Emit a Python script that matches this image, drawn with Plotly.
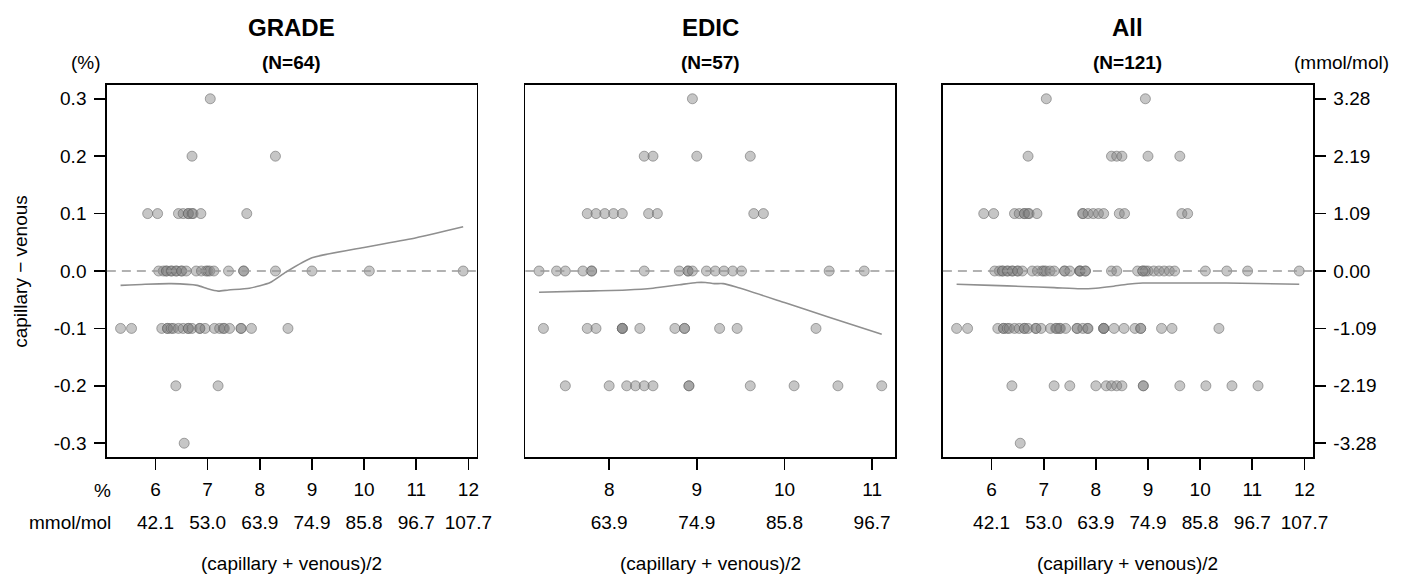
import plotly.graph_objects as go

W, H = 1416, 575

# ---------------- data ----------------
# GRADE panel (N=64): x = (capillary+venous)/2 in %, y = capillary - venous in %
grade_x = [7.05,
           6.70, 8.30,
           5.85, 6.04, 6.44, 6.53, 6.63, 6.63, 6.70, 6.72, 6.87, 7.75,
           6.06, 6.15, 6.21, 6.21, 6.30, 6.31, 6.40, 6.40, 6.50, 6.50, 6.59, 6.78,
           6.88, 6.97, 7.00, 7.04, 7.12, 7.40, 7.69, 7.69, 8.30, 9.00, 10.10, 11.90,
           5.33, 5.54, 6.12, 6.23, 6.23, 6.30, 6.34, 6.44, 6.53, 6.63, 6.63, 6.70,
           6.85, 6.85, 6.95, 7.13, 7.23, 7.30, 7.32, 7.42, 7.64, 7.64, 7.84, 8.54,
           6.39, 7.20,
           6.55]
grade_y = ([0.3] * 1 + [0.2] * 2 + [0.1] * 10 + [0.0] * 24 + [-0.1] * 24 +
           [-0.2] * 2 + [-0.3] * 1)

# EDIC panel (N=57)
edic_x = [8.95,
          8.40, 8.50, 9.00, 9.61,
          7.75, 7.85, 7.95, 8.05, 8.15, 8.45, 8.55, 9.65, 9.76,
          7.20, 7.40, 7.50, 7.70, 7.80, 7.80, 8.40, 8.80, 8.90, 8.90, 8.95,
          9.11, 9.21, 9.31, 9.41, 9.51, 10.51, 10.91,
          7.25, 7.75, 7.85, 8.15, 8.15, 8.15, 8.35, 8.75, 8.86, 8.86, 9.26, 9.46, 10.36,
          7.50, 8.00, 8.20, 8.30, 8.40, 8.50, 8.91, 8.91, 9.61, 10.11, 10.61, 11.11]
edic_y = ([0.3] * 1 + [0.2] * 4 + [0.1] * 9 + [0.0] * 18 + [-0.1] * 13 +
          [-0.2] * 12)

# All (N=121) = GRADE + EDIC
all_x = grade_x + edic_x
all_y = grade_y + edic_y

# smoothed (loess) curves
grade_fit_x = [5.33, 5.8, 6.3, 6.8, 7.0, 7.2, 7.4, 7.8, 8.2, 8.5, 9.0, 10.0, 11.0, 11.9]
grade_fit_y = [-0.025, -0.023, -0.022, -0.025, -0.031, -0.035, -0.033, -0.030,
               -0.020, -0.002, 0.023, 0.041, 0.058, 0.077]
edic_fit_x = [7.2, 7.7, 8.2, 8.5, 8.8, 9.0, 9.1, 9.2, 9.3, 9.45, 10.0, 10.5, 11.11]
edic_fit_y = [-0.037, -0.035, -0.033, -0.030, -0.024, -0.020, -0.020, -0.022,
              -0.022, -0.028, -0.055, -0.080, -0.110]
all_fit_x = [5.33, 6.0, 6.6, 7.2, 7.7, 8.0, 8.3, 8.6, 8.9, 9.5, 10.5, 11.9]
all_fit_y = [-0.023, -0.025, -0.027, -0.029, -0.031, -0.030, -0.027, -0.023,
             -0.021, -0.021, -0.021, -0.023]

titles = ["GRADE", "EDIC", "All"]
subtitles = ["(N=64)", "(N=57)", "(N=121)"]

pct_ticks_wide = [6, 7, 8, 9, 10, 11, 12]
mmol_labels_wide = ["42.1", "53.0", "63.9", "74.9", "85.8", "96.7", "107.7"]
pct_ticks_edic = [8, 9, 10, 11]
mmol_labels_edic = ["63.9", "74.9", "85.8", "96.7"]

y_ticks = [-0.3, -0.2, -0.1, 0.0, 0.1, 0.2, 0.3]
y_pct_labels = ["-0.3", "-0.2", "-0.1", "0.0", "0.1", "0.2", "0.3"]
y_mmol_labels = ["-3.28", "-2.19", "-1.09", "0.00", "1.09", "2.19", "3.28"]

# ---------------- layout helpers ----------------
FONT = "Liberation Sans, Arial, sans-serif"
def px(x):  # window pixel -> paper fraction
    return x / W
def py(y):
    return 1 - y / H

panels_px = [(108, 482), (531, 905), (953, 1327)]
x_ranges = [[5.067, 12.163], [7.044, 11.266], [5.067, 12.163]]
y_range = [-0.324, 0.324]
y_dom = [py(457), py(85)]

pt_fill = "rgba(128,128,128,0.45)"
pt_line = "rgba(100,100,100,0.55)"
fit_col = "#8f8f8f"

fig = go.Figure()

data_sets = [(grade_x, grade_y, grade_fit_x, grade_fit_y),
             (edic_x, edic_y, edic_fit_x, edic_fit_y),
             (all_x, all_y, all_fit_x, all_fit_y)]

for i, (xs, ys, fx, fy) in enumerate(data_sets):
    xa = "x" if i == 0 else f"x{i+1}"
    ya = "y" if i == 0 else f"y{i+1}"
    fig.add_trace(go.Scatter(x=xs, y=ys, mode="markers", xaxis=xa, yaxis=ya,
                             marker=dict(size=10, color=pt_fill,
                                         line=dict(color=pt_line, width=1)),
                             showlegend=False, hoverinfo="skip"))
    fig.add_trace(go.Scatter(x=fx, y=fy, mode="lines", xaxis=xa, yaxis=ya,
                             line=dict(color=fit_col, width=1.6, shape="spline", smoothing=0.6),
                             showlegend=False, hoverinfo="skip"))
    # empty trace to register the secondary (mmol/mol) x axis
    fig.add_trace(go.Scatter(x=[], y=[], xaxis=f"x{i+4}", yaxis=ya,
                             showlegend=False, hoverinfo="skip"))
    fig.add_shape(type="line", xref=f"{xa} domain", yref=ya, x0=0, x1=1, y0=0, y1=0,
                  line=dict(color="#999999", width=1.6, dash="9px,6px"), layer="above")

axis_common = dict(showgrid=False, zeroline=False, showline=True, linecolor="black",
                   linewidth=1.6, mirror=True, ticks="outside", ticklen=11,
                   tickwidth=1.6, tickcolor="black",
                   tickfont=dict(family=FONT, size=19, color="black"))

layout = dict(width=W, height=H, margin=dict(l=0, r=0, t=0, b=0),
              paper_bgcolor="white", plot_bgcolor="white", showlegend=False)

tick_sets = [(pct_ticks_wide, mmol_labels_wide), (pct_ticks_edic, mmol_labels_edic),
             (pct_ticks_wide, mmol_labels_wide)]
for i in range(3):
    n = "" if i == 0 else str(i + 1)
    l, r = panels_px[i]
    tv, mm = tick_sets[i]
    layout[f"xaxis{n}"] = dict(axis_common, domain=[px(l), px(r)], range=x_ranges[i],
                               anchor=f"y{n}", tickvals=tv, ticktext=[str(t) for t in tv],
                               ticklabelstandoff=4)
    layout[f"xaxis{i+4}"] = dict(domain=[px(l), px(r)], range=x_ranges[i],
                                 overlaying=f"x{n}", anchor="free", position=py(509),
                                 side="bottom", showgrid=False, zeroline=False,
                                 showline=False, ticks="", tickvals=tv, ticktext=mm,
                                 tickfont=dict(family=FONT, size=19, color="black"))
    yax = dict(axis_common, domain=y_dom, range=y_range, anchor=f"x{n}",
               tickvals=y_ticks)
    if i == 0:
        yax.update(ticktext=y_pct_labels, side="left", ticklabelstandoff=4)
    elif i == 1:
        yax.update(showticklabels=False, ticks="")
    else:
        yax.update(ticktext=y_mmol_labels, side="right", ticklabelstandoff=4)
    layout[f"yaxis{n}"] = yax

fig.update_layout(**layout)

ann = []
def add_text(text, x, y, size=19, bold=False, xanchor="center", angle=0):
    ann.append(dict(text=f"<b>{text}</b>" if bold else text, x=px(x), y=py(y),
                    xref="paper", yref="paper", showarrow=False, xanchor=xanchor,
                    yanchor="middle", textangle=angle,
                    font=dict(family=FONT, size=size, color="black")))

for i in range(3):
    l, r = panels_px[i]
    c = (l + r) / 2
    add_text(titles[i], c, 28, size=24, bold=True)
    add_text(subtitles[i], c, 63, size=19, bold=True)
    add_text("(capillary + venous)/2", c, 563, size=19)

add_text("(%)", 87, 63)
add_text("(mmol/mol)", 1356, 63)
add_text("%", 114, 490, xanchor="right")
add_text("mmol/mol", 114, 522, xanchor="right")
add_text("capillary − venous", 20, 271, angle=-90)

fig.update_layout(annotations=ann)
# remove the default 8px page margin so the figure fills the window exactly
fig.write_html("out.html", config={"displayModeBar": False, "staticPlot": True},
               post_script="document.body.style.margin='0';document.body.style.overflow='hidden';")
